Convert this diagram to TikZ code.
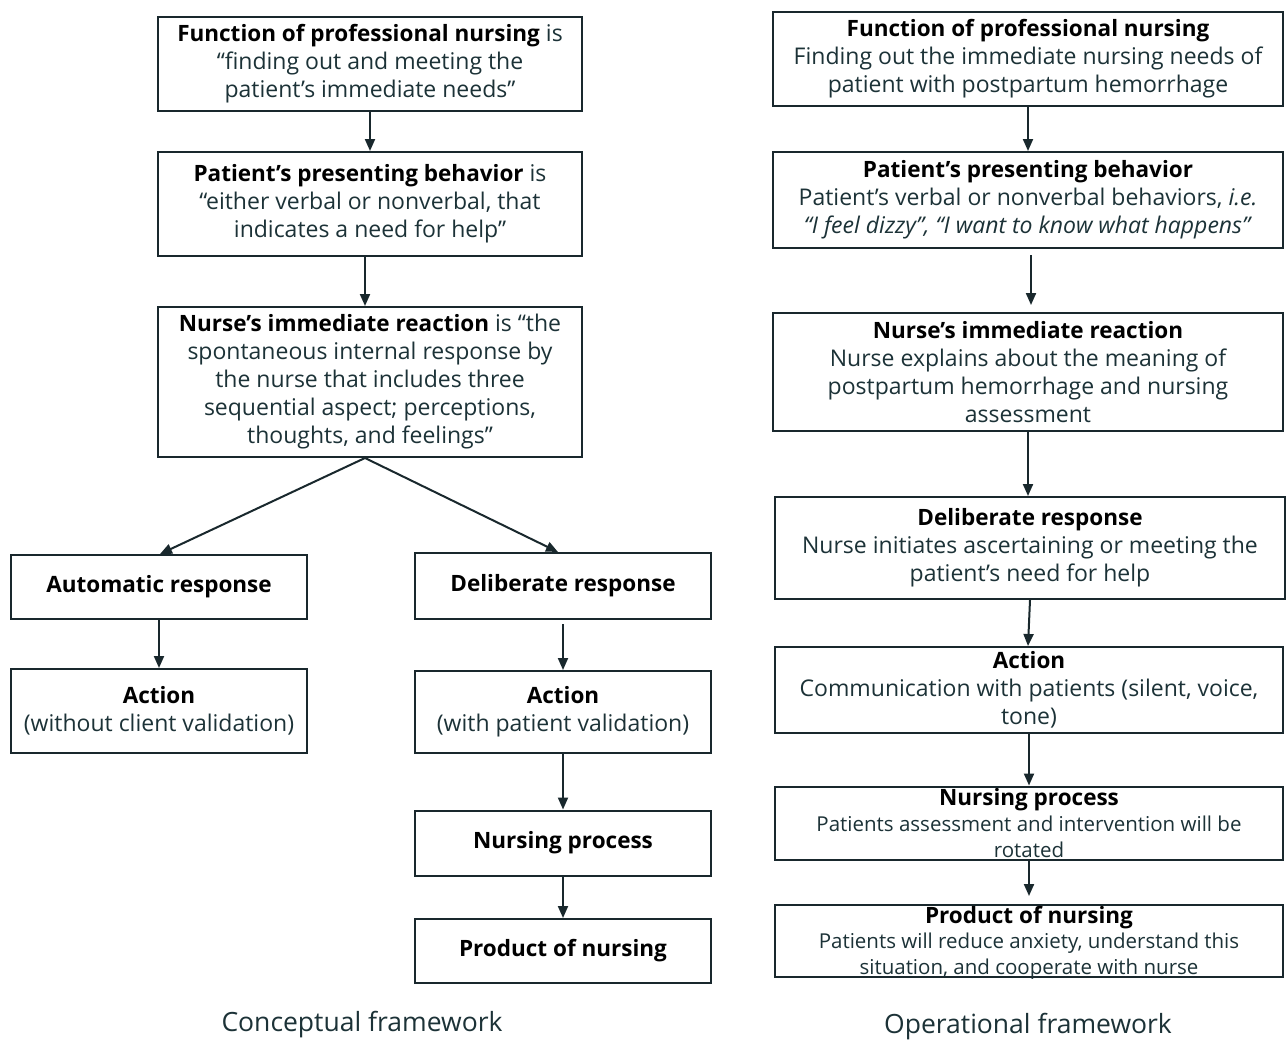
\documentclass[tikz,border=0pt]{standalone}
\usepackage{fontspec}
\setmainfont{Open Sans}
\usetikzlibrary{arrows.meta}
\definecolor{txt}{RGB}{28,50,55}
\definecolor{bord}{RGB}{25,40,45}
\newcommand{\hd}[1]{{\fontsize{22.5}{28}\selectfont\bfseries\color{black}#1}}
\tikzset{
  box/.style={draw=bord, line width=2pt, align=center, inner sep=1pt, text=txt,
    font=\fontsize{23}{28}\selectfont},
  lbox/.style={box, minimum width=424pt},
  sbox/.style={box, minimum width=296pt},
  rbox/.style={box, minimum width=510pt},
  emptybox/.style={draw=bord, line width=2pt, inner sep=0pt},
  txtonly/.style={align=center, inner sep=0pt, text=txt},
  arr/.style={draw=bord, line width=2pt, -{Triangle[length=12pt,width=10pt]}},
  captext/.style={text=txt, inner sep=0pt, font=\fontsize{26.5}{30}\selectfont},
}
\begin{document}
\begin{tikzpicture}[x=1pt,y=-1pt]
\useasboundingbox[fill=white] (0,0) rectangle (1288,1042);

% Left column
\node[lbox, minimum height=94pt] (l1) at (370,64)
  {\hd{Function of professional nursing} is\\“finding out and meeting the\\patient’s immediate needs”};
\node[lbox, minimum height=104pt] (l2) at (370,204)
  {\hd{Patient’s presenting behavior} is\\“either verbal or nonverbal, that\\indicates a need for help”};
\node[lbox, minimum height=150pt] (l3) at (370,382)
  {\hd{Nurse’s immediate reaction} is “the\\spontaneous internal response by\\the nurse that includes three\\sequential aspect; perceptions,\\thoughts, and feelings”};
\node[sbox, minimum height=64pt] (l4) at (159,587) {\hd{Automatic response}};
\node[sbox, minimum height=66pt] (l5) at (563,586) {\hd{Deliberate response}};
\node[sbox, minimum height=84pt] (l6) at (159,711) {\hd{Action}\\(without client validation)};
\node[sbox, minimum height=82pt] (l7) at (563,712) {\hd{Action}\\(with patient validation)};
\node[sbox, minimum height=65pt] (l8) at (563,843) {\hd{Nursing process}};
\node[sbox, minimum height=64pt] (l9) at (563,951) {\hd{Product of nursing}};

\coordinate (lsplit) at (365,458);
\draw[arr] (l1.south) -- (l2.north);
\draw[arr] ([xshift=-5pt]l2.south) -- ([xshift=-5pt]l3.north);
\draw[arr] (lsplit) -- ([xshift=1pt]l4.north);
\draw[arr] (lsplit) -- ([xshift=-5pt]l5.north);
\draw[arr] (l4.south) -- (l6.north);
\draw[arr, shorten <=4pt] (l5.south) -- (l7.north);
\draw[arr] (l7.south) -- (l8.north);
\draw[arr] (l8.south) -- (l9.north);

% Right column
\node[rbox, minimum height=94pt] (r1) at (1028,59)
  {\hd{Function of professional nursing}\\Finding out the immediate nursing needs of\\patient with postpartum hemorrhage};
\node[rbox, minimum height=96pt] (r2) at (1028,200)
  {\hd{Patient’s presenting behavior}\\Patient’s verbal or nonverbal behaviors, \textit{i.e.}\\\textit{“I feel dizzy”, “I want to know what happens”}};
\node[rbox, minimum height=118pt] (r3) at (1028,372)
  {\hd{Nurse’s immediate reaction}\\Nurse explains about the meaning of\\postpartum hemorrhage and nursing\\assessment};
\node[rbox, minimum height=102pt] (r4) at (1030,548)
  {\hd{Deliberate response}\\Nurse initiates ascertaining or meeting the\\patient’s need for help};
\node[rbox, minimum width=508pt, minimum height=86pt, inner sep=0pt] (r5) at (1029,690)
  {\hd{Action}\\Communication with patients (silent, voice,\\tone)};
\node[emptybox, minimum width=508pt, minimum height=73pt] (r6) at (1029,823) {};
\node[txtonly, anchor=north, font=\fontsize{20.5}{26}\selectfont] (r6t) at (1029,788)
  {\hd{Nursing process}\\Patients assessment and intervention will be\\rotated};
\node[emptybox, minimum width=508pt, minimum height=72pt] (r7) at (1029,941) {};
\node[txtonly, anchor=north, font=\fontsize{20.5}{25.5}\selectfont] (r7t) at (1029,906)
  {\hd{Product of nursing}\\Patients will reduce anxiety, understand this\\situation, and cooperate with nurse};

\draw[arr] (r1.south) -- (r2.north);
\draw[arr, shorten <=6pt, shorten >=7pt] ([xshift=3pt]r2.south) -- ([xshift=3pt]r3.north);
\draw[arr] (r3.south) -- ([xshift=-2pt]r4.north);
\draw[arr] (r4.south) -- ([xshift=-1pt]r5.north);
\draw[arr] (r5.south) -- (r6.north);
\draw[arr, shorten >=8pt] (r6.south) -- (r7.north);

% Captions
\node[captext] (c1) at (362,1025) {Conceptual framework};
\node[captext] (c2) at (1028,1027) {Operational framework};
\end{tikzpicture}
\end{document}
